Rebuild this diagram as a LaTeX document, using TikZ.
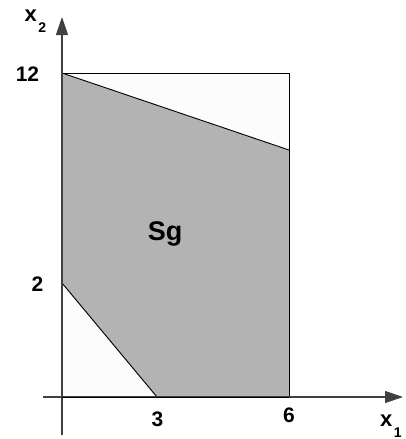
\documentclass[tikz,border=0pt]{standalone}
\usepackage{fontspec}
\setmainfont{Liberation Sans}
\newfontfamily\labelfont{Liberation Sans Bold}
\usetikzlibrary{arrows.meta}
\definecolor{regiongray}{HTML}{B3B3B3}
\definecolor{axisgray}{HTML}{404040}
\newcommand{\lowsub}[1]{\kern1.5pt\raisebox{-11pt}{\fontsize{14}{16}\selectfont #1}}
\begin{document}
\begin{tikzpicture}[x=1pt,y=-1pt,
  axis/.style={draw=axisgray,line width=1.2pt},
  edge/.style={draw=black,line width=0.9pt},
  num/.style={font=\fontsize{21}{24}\selectfont\labelfont,inner sep=0pt},
  var/.style={font=\fontsize{22}{26}\selectfont\labelfont,inner sep=0pt},
  >={Triangle[length=18pt,width=12pt]}]
  \useasboundingbox (0,0) rectangle (405,439);
  % corners of the feasible set
  \coordinate (o) at (62,397);
  \coordinate (a) at (62,283);
  \coordinate (b) at (157,397);
  \coordinate (c) at (289,397);
  \coordinate (d) at (289,150);
  \coordinate (e) at (62,73);
  \coordinate (f) at (289,73);
  \fill[white!99!black] (o) -- (e) -- (f) -- (c) -- cycle;
  \fill[regiongray] (a) -- (e) -- (d) -- (c) -- (b) -- cycle;
  \draw[edge] (e) -- (f) -- (c);
  \draw[edge] (e) -- (d);
  \draw[edge] (a) -- (b);
  % axes
  \coordinate (xstart) at (43,397);
  \coordinate (xend) at (403,397);
  \coordinate (ystart) at (62,435);
  \coordinate (yend) at (62,17);
  \draw[axis,->] (xstart) -- (xend);
  \draw[axis,->] (ystart) -- (yend);
  \draw[edge] (o) -- (c);
  % labels
  \node[num] (l12) at (27.5,74.5) {12};
  \node[num] (l2) at (37.5,284) {2};
  \node[num] (l3) at (157.5,419.5) {3};
  \node[num] (l6) at (289,415.5) {6};
  \node[var,anchor=base west] (xtwo) at (24.5,21) {x\lowsub{2}};
  \node[var,anchor=base west] (xone) at (380,426) {x\lowsub{1}};
  \node[font=\fontsize{27}{31}\selectfont\labelfont] (sg) at (165,234) {Sg};
\end{tikzpicture}
\end{document}
